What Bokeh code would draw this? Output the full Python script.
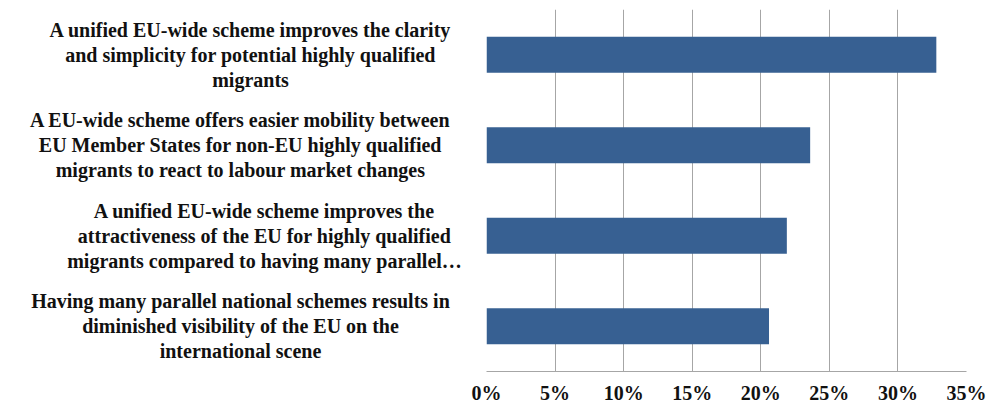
from bokeh.plotting import figure
from bokeh.layouts import row
from bokeh.models import Range1d, FactorRange, FixedTicker, PrintfTickFormatter, ColumnDataSource
from bokeh.core.properties import value
from bokeh.embed import file_html
from bokeh.resources import INLINE

# ---- data ----
categories = [
    "A unified EU-wide scheme improves the clarity\nand simplicity for potential highly qualified\nmigrants",
    "A EU-wide scheme offers easier mobility between\nEU Member States for non-EU highly qualified\nmigrants to react to labour market changes",
    "A unified EU-wide scheme improves the\nattractiveness of the EU for highly qualified\nmigrants compared to having many parallel\u2026",
    "Having many parallel national schemes results in\ndiminished visibility of the EU on the\ninternational scene",
]
shares = [32.8, 23.6, 21.9, 20.6]  # percent
x_ticks = [0, 5, 10, 15, 20, 25, 30, 35]

# layout helpers (label block centres in the label panel, px)
label_centres = [250, 240, 264, 240]

FONT = "Liberation Serif"
BAR = "#376092"
GRID = "#A6A6A6"
TOP, BOTTOM, H = 9, 35, 406

y_range = FactorRange(factors=list(reversed(categories)))

# label panel
lp = figure(width=468, height=H, x_range=Range1d(0, 468), y_range=y_range,
            output_backend="svg", toolbar_location=None,
            min_border_left=0, min_border_right=0, min_border_top=TOP, min_border_bottom=BOTTOM)
lp.axis.visible = False
lp.grid.visible = False
lp.outline_line_color = None
src_l = ColumnDataSource(dict(x=label_centres, y=categories, t=categories))
lp.text(x="x", y="y", text="t", source=src_l, text_align="center", text_baseline="middle",
        text_font=value(FONT), text_font_style="bold", text_font_size="20px",
        text_line_height=1.13, text_color="#111111")

# chart panel
p = figure(width=520, height=H, x_range=Range1d(0, 35), y_range=y_range,
           output_backend="svg", toolbar_location=None,
           min_border_left=18, min_border_right=22, min_border_top=TOP, min_border_bottom=BOTTOM)
src = ColumnDataSource(dict(y=categories, v=shares))
p.hbar(y="y", right="v", left=0, height=0.4, source=src, color=BAR, line_color=None)

p.yaxis.visible = False
p.ygrid.visible = False
p.outline_line_color = None
p.xaxis.ticker = FixedTicker(ticks=x_ticks)
p.xaxis.formatter = PrintfTickFormatter(format="%d%%")
p.xaxis.major_tick_line_color = None
p.xaxis.minor_tick_line_color = None
p.xaxis.major_tick_out = 0
p.xaxis.major_tick_in = 0
p.xaxis.major_label_standoff = 10
p.xaxis.axis_line_color = GRID
p.xaxis.major_label_text_font = FONT
p.xaxis.major_label_text_font_style = "bold"
p.xaxis.major_label_text_font_size = "20px"
p.xaxis.major_label_text_color = "#111111"
p.xgrid.ticker = FixedTicker(ticks=x_ticks)
p.xgrid.grid_line_color = GRID
p.xgrid.grid_line_width = 1

layout = row(lp, p)
open("out.html", "w").write(file_html(layout, INLINE))
